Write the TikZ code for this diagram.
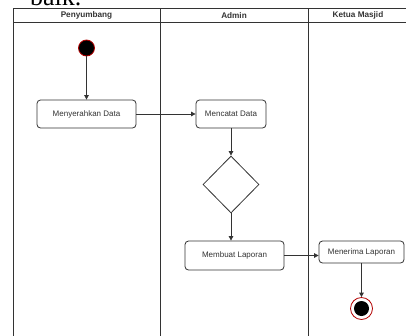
\documentclass[tikz,border=0pt]{standalone}
\usepackage{fontspec}
\setmainfont{Liberation Sans}
\newfontfamily\serifface{Liberation Serif}
\usetikzlibrary{arrows.meta,shapes.geometric}
\definecolor{ln}{HTML}{333333}
\definecolor{txt}{HTML}{333333}
\definecolor{ring}{HTML}{B20000}
\tikzset{
  act/.style={draw=ln, line width=0.8pt, rounded corners=3.5pt, fill=white, text=txt, font=\fontsize{8}{9}\selectfont, inner sep=0pt, align=center},
  lane/.style={draw=ln, line width=0.8pt},
  hdr/.style={font=\fontsize{8.2}{9}\selectfont\bfseries, text=ln},
  flow/.style={draw=ln, line width=0.8pt, -{Triangle[length=4.5pt,width=4.5pt]}},
  decision/.style={diamond, draw=ln, line width=0.8pt, minimum width=56pt, minimum height=57pt, inner sep=0pt, aspect=1},
}
\begin{document}
\begin{tikzpicture}[x=1pt,y=-1pt]
\useasboundingbox (0,0) rectangle (406,335);
% cut-off text above the figure
\node[anchor=base west, inner sep=0pt, font=\fontsize{26}{28}\selectfont\serifface] (prev) at (30,5.5) {baik.};
% swimlanes
\coordinate (tl) at (13,8);
\coordinate (tr) at (412,8);
\draw[lane] (13,340) -- (tl) -- (tr);
\draw[lane] (13,22) -- (412,22);
\draw[lane] (160.5,8) -- (160.5,340);
\draw[lane] (308,8) -- (308,340);
\node[hdr] (h1) at (86.5,15.2) {Penyumbang};
\node[hdr] (h2) at (234,15.2) {Admin};
\node[hdr] (h3) at (358,15.2) {Ketua Masjid};
% nodes
\node[circle, fill=black, draw=ring, line width=0.8pt, minimum size=16pt, inner sep=0pt] (start) at (86.5,48) {};
\node[act, minimum width=99pt, minimum height=28pt] (a1) at (86.5,114) {Menyerahkan Data};
\node[act, minimum width=70pt, minimum height=28pt] (a2) at (231,114) {Mencatat Data};
\node[decision] (d1) at (231,184.5) {};
\node[act, minimum width=99pt, minimum height=29pt] (a3) at (234.5,255.5) {Membuat Laporan};
\node[act, minimum width=85pt, minimum height=22pt] (a4) at (361.5,252) {Menerima Laporan};
\node[circle, draw=ring, line width=0.8pt, fill=white, minimum size=22pt, inner sep=0pt] (end) at (361.5,308.5) {};
\node[circle, fill=black, minimum size=15pt, inner sep=0pt] (endin) at (end.center) {};
% flows
\draw[flow] (start) -- (a1);
\draw[flow] (a1) -- (a2);
\draw[flow] (a2) -- (d1);
\draw[flow] (d1.south) -- (d1.south |- a3.north);
\draw[flow] (a3.east) -- (a3.east -| a4.west);
\draw[flow] (a4) -- (end);
\end{tikzpicture}
\end{document}
